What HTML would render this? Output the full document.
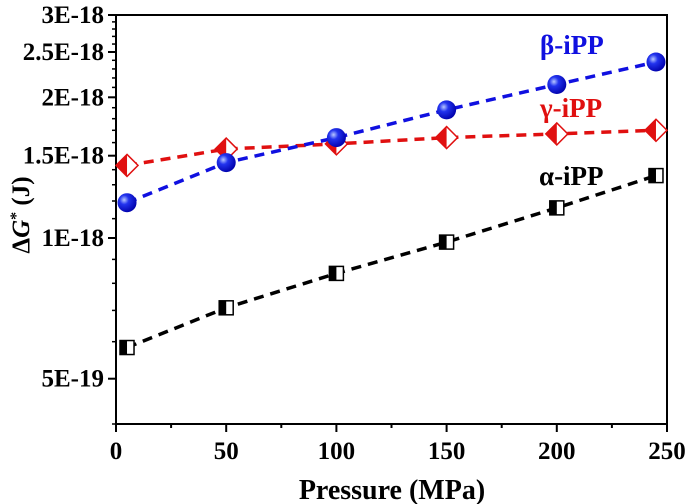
<!DOCTYPE html>
<html><head><meta charset="utf-8"><style>
body{margin:0;background:#fff}
svg{display:block;font-family:"Liberation Serif",serif;font-weight:bold}
</style></head><body>
<svg id="chart" width="700" height="504">
<defs>
<radialGradient id="sph" cx="0.35" cy="0.35" r="0.7">
<stop offset="0" stop-color="#b8c8ff"/><stop offset="0.35" stop-color="#2233ee"/><stop offset="1" stop-color="#0000aa"/>
</radialGradient>
</defs>
</svg>
<script>
const pressures=[5,50,100,150,200,245];
const betaVals=[1.19e-18,1.45e-18,1.64e-18,1.88e-18,2.13e-18,2.38e-18];
const gammaVals=[1.43e-18,1.55e-18,1.59e-18,1.64e-18,1.67e-18,1.70e-18];
const alphaVals=[0.583e-18,0.709e-18,0.84e-18,0.98e-18,1.16e-18,1.36e-18];
const xTicks=[0,50,100,150,200,250];
const yTicks=[5e-19,1e-18,1.5e-18,2e-18,2.5e-18,3e-18];
const yTickLabels=["5E-19","1E-18","1.5E-18","2E-18","2.5E-18","3E-18"];
const L=116,R=667,T=15,B=424,yMin=4e-19,yMax=3e-18;
const X=v=>L+(v-0)/(250-0)*(R-L);
const Y=v=>B-(Math.log10(v)-Math.log10(yMin))/(Math.log10(yMax)-Math.log10(yMin))*(B-T);
const svg=document.getElementById('chart');
const NS='http://www.w3.org/2000/svg';
function mk(tag,attrs,parent){const e=document.createElementNS(NS,tag);for(const k in attrs)e.setAttribute(k,attrs[k]);(parent||svg).appendChild(e);return e;}
let f=mk('rect',{x:L,y:T,width:R-L,height:B-T,fill:'none',stroke:'#000','stroke-width':2});


for(let i=4;i<=30;i++){const v=i*1e-19;const y=Y(v);
let t=mk('line',{x1:L-4,x2:L,y1:y,y2:y,stroke:'#000','stroke-width':1.5});

}
yTicks.forEach((v,i)=>{const y=Y(v);
let t=mk('line',{x1:L-8,x2:L,y1:y,y2:y,stroke:'#000','stroke-width':2});


let tx=mk('text',{x:L-12,y:y+8,'text-anchor':'end','font-size':25});tx.textContent=yTickLabels[i];

});
for(let v=0;v<=250;v+=25){const x=X(v);const major=v%50===0;
let t=mk('line',{x1:x,x2:x,y1:B,y2:B+(major?8:4),stroke:'#000','stroke-width':2});

}
xTicks.forEach(v=>{let tx=mk('text',{x:X(v),y:B+35,'text-anchor':'middle','font-size':25});tx.textContent=v;

});
let xl=mk('text',{x:392,y:499,'text-anchor':'middle','font-size':28});xl.textContent='Pressure (MPa)';


let yl=mk('text',{transform:'translate(29,215) rotate(-90)','text-anchor':'middle','font-size':25});
yl.innerHTML='Δ<tspan font-style="italic">G</tspan><tspan dy="-8" font-size="16">*</tspan><tspan dy="8"> (J)</tspan>';


function line(vals,color,name){const pts=pressures.map((p,i)=>X(p)+','+Y(vals[i])).join(' ');
let l=mk('polyline',{points:pts,fill:'none',stroke:color,'stroke-width':3.5,'stroke-dasharray':'10,7'});

}
line(alphaVals,'#000','alpha-line');line(gammaVals,'#e01010','gamma-line');line(betaVals,'#1010e0','beta-line');
pressures.forEach((p,i)=>{const x=X(p),y=Y(alphaVals[i]);const g=mk('g',{});


mk('rect',{x:x-7,y:y-7,width:14,height:14,fill:'#fff',stroke:'#000','stroke-width':1.5},g);
mk('rect',{x:x-7,y:y-7,width:7,height:14,fill:'#000'},g);});
pressures.forEach((p,i)=>{const x=X(p),y=Y(gammaVals[i]);const g=mk('g',{});


mk('polygon',{points:`${x},${y-11} ${x+11},${y} ${x},${y+11} ${x-11},${y}`,fill:'#fff',stroke:'#e01010','stroke-width':1.5},g);
mk('polygon',{points:`${x},${y-11} ${x},${y+11} ${x-11},${y}`,fill:'#e01010'},g);});
pressures.forEach((p,i)=>{let c=mk('circle',{cx:X(p),cy:Y(betaVals[i]),r:9.5,fill:'url(#sph)'});

});
[['β-iPP',540,54,'#1010e0','beta-label'],['γ-iPP',540,117,'#e01010','gamma-label'],['α-iPP',539,185,'#000','alpha-label']].forEach(a=>{
let t=mk('text',{x:a[1],y:a[2],'font-size':27,fill:a[3]});t.textContent=a[0];

});
</script>
</body></html>
